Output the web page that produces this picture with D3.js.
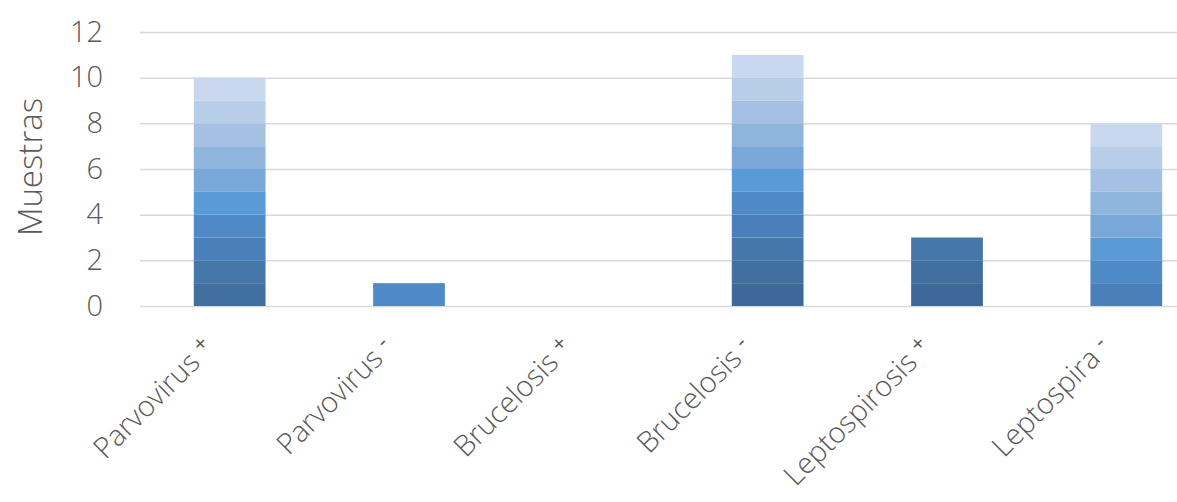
<!DOCTYPE html>
<html>
<head>
<meta charset="utf-8">
<script src="https://cdnjs.cloudflare.com/ajax/libs/d3/7.8.5/d3.min.js"></script>
<style>
  body { margin: 0; background: #fff; }
  text { font-family: "Open Sans", sans-serif; font-weight: 300; fill: #595959; }
</style>
</head>
<body>
<svg class="svg" width="1177" height="502"></svg>
<script>
// categorias del eje x
const categories = ['Parvovirus +', 'Parvovirus -', 'Brucelosis +', 'Brucelosis -', 'Leptospirosis +', 'Leptospira -'];

// una fila por serie (de abajo hacia arriba), un valor por categoria
const serie0 = [0, 0, 0, 1, 1, 0];
const serie1 = [1, 0, 0, 1, 1, 0];
const serie2 = [1, 0, 0, 1, 1, 0];
const serie3 = [1, 0, 0, 1, 0, 1];
const serie4 = [1, 1, 0, 1, 0, 1];
const serie5 = [1, 0, 0, 1, 0, 1];
const serie6 = [1, 0, 0, 1, 0, 1];
const serie7 = [1, 0, 0, 1, 0, 1];
const serie8 = [1, 0, 0, 1, 0, 1];
const serie9 = [1, 0, 0, 1, 0, 1];
const serie10 = [1, 0, 0, 1, 0, 1];
const series = [serie0, serie1, serie2, serie3, serie4, serie5, serie6, serie7, serie8, serie9, serie10];

const yTicks = [0, 2, 4, 6, 8, 10, 12];

// colores monocromaticos, oscuro -> claro
const colors = ['#3d6898', '#41709f', '#4577ab', '#4a80b9', '#4f89c6', '#5b9bd5',
  '#79a7d8', '#90b5dd', '#a5c0e2', '#b8cde8', '#c9d8ee'];

const svg = d3.select('.svg');

const x = d3.scaleBand()
  .domain(categories)
  .range([140, 1216])
  .paddingInner(0.6)
  .paddingOuter(0.3);

const y = d3.scaleLinear().domain([0, 12]).range([306, 32]);

// tabla para d3.stack
const keys = series.map((s, i) => 's' + i);
const table = categories.map((c, ci) => {
  const row = { cat: c };
  series.forEach((s, i) => { row['s' + i] = s[ci]; });
  return row;
});
const stacked = d3.stack().keys(keys)(table);

// lineas de cuadricula
const grid = svg.append('g')
  .attr('transform', 'translate(140,0)')
  .call(d3.axisLeft(y).tickValues(yTicks).tickSize(-1100).tickFormat(''));
grid.select('.domain').remove();
grid.selectAll('line').attr('stroke', '#d9d9d9').attr('stroke-width', 1.5);

// barras
svg.append('g').selectAll('g')
  .data(stacked)
  .join('g')
  .attr('fill', (d, i) => colors[i])
  .selectAll('rect')
  .data(d => d.filter(p => p[1] - p[0] > 0))
  .join('rect')
  .attr('x', d => x(d.data.cat))
  .attr('width', x.bandwidth())
  .attr('y', d => y(d[1]))
  .attr('height', d => y(d[0]) - y(d[1]));

// eje y
const yAxis = svg.append('g')
  .attr('transform', 'translate(140,0)')
  .call(d3.axisLeft(y).tickValues(yTicks).tickSize(0).tickPadding(37));
yAxis.select('.domain').remove();
yAxis.selectAll('text').style('font-size', '29px').attr('fill', '#595959');

svg.append('text')
  .attr('transform', 'translate(42,167) rotate(-90)')
  .attr('text-anchor', 'middle')
  .style('font-size', '33px')
  .text('Muestras');

// etiquetas del eje x, giradas
const lab = svg.append('g').selectAll('text')
  .data(categories)
  .join('text')
  .attr('text-anchor', 'end')
  .attr('transform', d => `translate(${x(d) + x.bandwidth() / 2 - 14},350) rotate(-45)`)
  .style('font-size', '29px');
lab.append('tspan').text(d => d.slice(0, -1));
lab.append('tspan')
  .attr('dy', '-0.35em')
  .style('font-size', '22px')
  .style('font-weight', 400)
  .text(d => d.slice(-1));
</script>
</body>
</html>
